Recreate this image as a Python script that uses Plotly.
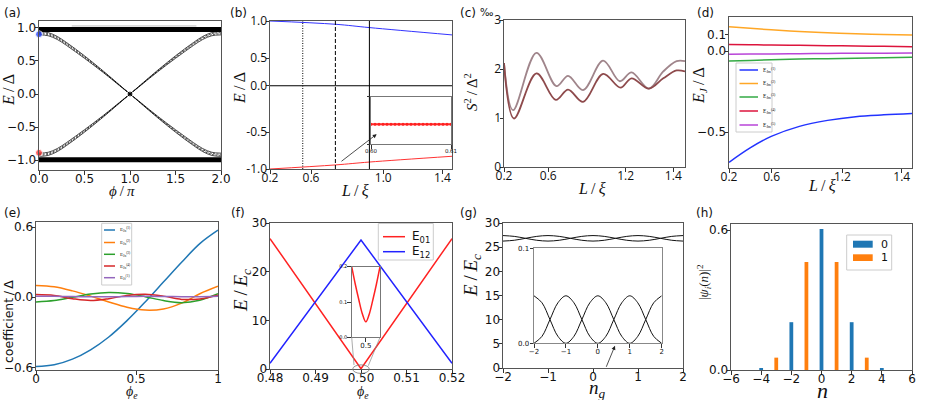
import plotly.graph_objects as go
import numpy as np

W, H = 926, 400

# ======================= DATA =======================
# (a) bound-state branch read on 0<=phi<=1 (rest of the branch follows by symmetry)
phi_a_half = [0.0, 0.1, 0.2, 0.3, 0.4, 0.5, 0.6, 0.7, 0.8, 0.9, 1.0]
abs_outer_hi = [0.945, 0.93, 0.872, 0.782, 0.683, 0.578, 0.468, 0.355, 0.238, 0.119, 0.0]
abs_dash_hi = [0.928, 0.914, 0.857, 0.768, 0.669, 0.566, 0.458, 0.347, 0.233, 0.116, 0.0]
abs_dash_lo = [0.912, 0.898, 0.842, 0.754, 0.655, 0.553, 0.448, 0.34, 0.228, 0.113, 0.0]
abs_outer_lo = [0.895, 0.882, 0.826, 0.738, 0.64, 0.54, 0.437, 0.332, 0.222, 0.11, 0.0]
cont_phi = [0.0, 2.0]
cont_top = [0.975, 0.975]
cont_bot = [-0.995, -0.995]
dot_phi = [0.0, 0.0, 1.0]
dot_E = [0.905, -0.89, 0.0]
dot_col = ["#1030ff", "#ff2020", "#000000"]

# (b)
L_b = [0.2, 0.667, 0.91, 1.5]
E_b_blue = [1.0, 0.956, 0.911, 0.812]
E_b_red = [-1.0, -0.945, -0.906, -0.828]
L_b_dotted, L_b_dashed, L_b_solid = 0.434, 0.667, 0.91
E_b_zero = 0.125
L_b_inset = [0.600, 0.6005, 0.601, 0.6015, 0.602, 0.6025, 0.603, 0.6035, 0.604, 0.6045, 0.605,
             0.6055, 0.606, 0.6065, 0.607, 0.6075, 0.608, 0.6085, 0.609, 0.6095, 0.610]
E_b_inset = [-0.958, -0.958, -0.958, -0.958, -0.958, -0.958, -0.958, -0.958, -0.958, -0.958, -0.958,
             -0.958, -0.958, -0.958, -0.958, -0.958, -0.958, -0.958, -0.958, -0.958, -0.958]

# (c)
L_c_up = [0.2, 0.265, 0.433, 0.577, 0.660, 0.768, 0.912, 1.032, 1.116, 1.241, 1.344, 1.440, 1.5]
S_up = [2.12, 1.16, 2.33, 1.65, 1.86, 1.57, 2.17, 1.75, 1.93, 1.60, 1.95, 2.16, 2.16]
L_c_lo = [0.2, 0.272, 0.433, 0.572, 0.660, 0.768, 0.912, 1.037, 1.116, 1.241, 1.344, 1.440, 1.5]
S_lo = [2.12, 0.99, 1.91, 1.37, 1.58, 1.33, 1.90, 1.62, 1.81, 1.60, 1.81, 1.97, 1.95]

# (d)
L_d = [0.2, 0.35, 0.5, 0.7, 0.9, 1.1, 1.3, 1.5]
EJ1 = [-0.687, -0.598, -0.527, -0.465, -0.428, -0.405, -0.394, -0.386]
EJ2 = [0.150, 0.140, 0.131, 0.121, 0.113, 0.107, 0.102, 0.099]
EJ3 = [-0.062, -0.058, -0.054, -0.050, -0.047, -0.044, -0.041, -0.039]
EJ4 = [0.041, 0.039, 0.037, 0.035, 0.033, 0.031, 0.029, 0.027]
EJ5 = [-0.020, -0.019, -0.018, -0.017, -0.015, -0.014, -0.013, -0.012]
d_names = ["E<sub>Jm</sub><sup>(1)</sup>", "E<sub>Jm</sub><sup>(2)</sup>", "E<sub>Jm</sub><sup>(3)</sup>",
           "E<sub>Jm</sub><sup>(4)</sup>", "E<sub>Jm</sub><sup>(5)</sup>"]
d_cols = ["#2233ff", "#ffa726", "#33aa44", "#dc143c", "#b844d8"]

# (e)
phi_e = [0.0, 0.1, 0.2, 0.3, 0.4, 0.5, 0.6, 0.7, 0.8, 0.9, 1.0]
coef1 = [-0.594, -0.578, -0.53, -0.45, -0.34, -0.20, -0.04, 0.13, 0.30, 0.46, 0.575]
coef2 = [0.102, 0.09, 0.055, 0.01, -0.04, -0.085, -0.11, -0.10, -0.05, 0.03, 0.094]
coef3 = [-0.04, -0.028, 0.0, 0.028, 0.041, 0.032, 0.005, -0.028, -0.046, -0.025, 0.03]
coef4 = [0.023, 0.015, -0.012, -0.028, -0.012, 0.016, 0.026, 0.01, -0.018, -0.014, 0.018]
coef5 = [0.008, 0.008, 0.006, 0.004, 0.004, 0.006, 0.008, 0.007, 0.005, 0.005, 0.008]
e_names = ["E<sub>Jn</sub><sup>(1)</sup>", "E<sub>Jn</sub><sup>(2)</sup>", "E<sub>Jn</sub><sup>(3)</sup>",
           "E<sub>Jn</sub><sup>(4)</sup>", "E<sub>Jf</sub><sup>(1)</sup>"]
e_cols = ["#1f77b4", "#ff7f0e", "#2ca02c", "#d62728", "#9467bd"]

# (f)
phi_f = [0.48, 0.50, 0.52]
E01 = [26.8, 0.05, 26.8]
E12 = [1.16, 26.5, 1.16]
phi_f_in = [0.4996, 0.4997, 0.4998, 0.4999, 0.5, 0.5001, 0.5002, 0.5003, 0.5004]
E01_in = [0.2, 0.151, 0.107, 0.067, 0.044, 0.067, 0.107, 0.151, 0.2]

# (g)
ng = [-2, -1.75, -1.5, -1.25, -1, -0.75, -0.5, -0.25, 0, 0.25, 0.5, 0.75, 1, 1.25, 1.5, 1.75, 2]
Eg_a = [27.4, 27.23, 26.83, 26.43, 26.26, 26.43, 26.83, 27.23, 27.4, 27.23, 26.83, 26.43, 26.26, 26.43, 26.83, 27.23, 27.4]
Eg_b = [26.26, 26.43, 26.83, 27.23, 27.4, 27.23, 26.83, 26.43, 26.26, 26.43, 26.83, 27.23, 27.4, 27.23, 26.83, 26.43, 26.26]
Eg_in_a = [0.05, 0.0427, 0.025, 0.0073, 0.0, 0.0073, 0.025, 0.0427, 0.05, 0.0427, 0.025, 0.0073, 0.0, 0.0073, 0.025, 0.0427, 0.05]
Eg_in_b = [0.0, 0.0073, 0.025, 0.0427, 0.05, 0.0427, 0.025, 0.0073, 0.0, 0.0073, 0.025, 0.0427, 0.05, 0.0427, 0.025, 0.0073, 0.0]

# (h)
n_even = [-4, -2, 0, 2, 4]
psi0 = [0.006, 0.205, 0.605, 0.205, 0.006]
n_odd = [-3, -1, 1, 3]
psi1 = [0.053, 0.463, 0.463, 0.053]

# ======================= FIGURE =======================
fig = go.Figure()
layout = dict(width=W, height=H, margin=dict(l=0, r=0, t=0, b=0), autosize=False,
              paper_bgcolor="white", plot_bgcolor="rgba(0,0,0,0)", template="none",
              showlegend=False, hovermode=False, barmode="overlay",
              font=dict(family="DejaVu Sans", size=12, color="#111"))
AX = {}


def axid(i, k):
    return k if i == 1 else f"{k}{i}"


def setup(i, xpx, ypx, xr, yr, xt, yt, xfont=12, yfont=12, xfam="DejaVu Sans", yfam="DejaVu Sans",
          ylabpos="outside", lc="#555", xso=-6, yso=-4):
    xdom = [xpx[0] / W, xpx[1] / W]
    ydom = [1 - ypx[1] / H, 1 - ypx[0] / H]
    AX[i] = (xpx, ypx, xr, yr)
    base = dict(showgrid=False, zeroline=False, showline=True, linecolor=lc, linewidth=1,
                mirror=True, ticks="outside", ticklen=3.5, tickwidth=0.8, tickcolor="#333",
                fixedrange=True)
    layout[axid(i, "xaxis")] = dict(base, domain=xdom, range=xr, anchor=axid(i, "y"),
                                    tickvals=xt[0], ticktext=xt[1], ticklabelstandoff=xso,
                                    tickfont=dict(family=xfam, size=xfont, color="#111"))
    layout[axid(i, "yaxis")] = dict(base, domain=ydom, range=yr, anchor=axid(i, "x"),
                                    tickvals=yt[0], ticktext=yt[1], ticklabelposition=ylabpos,
                                    ticklabelstandoff=yso,
                                    tickfont=dict(family=yfam, size=yfont, color="#111"))


def line(i, x, y, color, width=1.2, dash=None, shape="linear", mode="lines", **kw):
    fig.add_trace(go.Scatter(x=x, y=y, mode=mode, xaxis=axid(i, "x"), yaxis=axid(i, "y"),
                             line=dict(color=color, width=width, dash=dash, shape=shape),
                             showlegend=False, hoverinfo="skip", **kw))


annots, shapes = [], []


def txt(x, y, text, size=12, family="DejaVu Sans", angle=0, xanchor="center", color="#111"):
    annots.append(dict(x=x / W, y=1 - y / H, xref="paper", yref="paper", text=text, showarrow=False,
                       xanchor=xanchor, yanchor="middle", textangle=angle,
                       font=dict(size=size, family=family, color=color)))


def pline(x0, y0, x1, y1, color, width=1.0, dash=None):
    shapes.append(dict(type="line", xref="paper", yref="paper", x0=x0 / W, y0=1 - y0 / H,
                       x1=x1 / W, y1=1 - y1 / H, line=dict(color=color, width=width, dash=dash)))


def prect(x0, y0, x1, y1, line_color="#cccccc", fill="rgba(255,255,255,0.8)", width=1):
    shapes.append(dict(type="rect", xref="paper", yref="paper", x0=x0 / W, y0=1 - y1 / H,
                       x1=x1 / W, y1=1 - y0 / H, line=dict(color=line_color, width=width),
                       fillcolor=fill, layer="above"))


def d2p(i, x, y):
    xpx, ypx, xr, yr = AX[i]
    X = xpx[0] + (x - xr[0]) / (xr[1] - xr[0]) * (xpx[1] - xpx[0])
    Y = ypx[1] - (y - yr[0]) / (yr[1] - yr[0]) * (ypx[1] - ypx[0])
    return X, Y


SERIF = "Liberation Serif"
M = "\u2212"

# ---------- (a) ----------
setup(1, (39, 221), (21, 170), [0, 2], [-1.15, 1.105],
      ([0, 0.5, 1, 1.5, 2], ["0.0", "0.5", "1.0", "1.5", "2.0"]),
      ([-1, -0.5, 0, 0.5, 1], [M + "1.0", M + "0.5", "0.0", "0.5", "1.0"]))
phi_full = phi_a_half + [2 - p for p in reversed(phi_a_half[:-1])]
for vals, dash in [(abs_outer_hi, None), (abs_dash_hi, "2px,1.5px"), (abs_dash_lo, "2px,1.5px"),
                   (abs_outer_lo, None)]:
    desc = vals + [-v for v in reversed(vals[:-1])]
    asc = [-v for v in desc]
    line(1, phi_full, desc, "#000", width=0.7, dash=dash, shape="spline")
    line(1, phi_full, asc, "#000", width=0.7, dash=dash, shape="spline")
line(1, cont_phi, cont_top, "#000", width=5)
line(1, cont_phi, cont_bot, "#000", width=5)
line(1, [0.36, 1.73], [1.03, 1.03], "#b0b0b0", width=0.8)
fig.add_trace(go.Scatter(x=dot_phi, y=dot_E, mode="markers", xaxis="x", yaxis="y",
                         marker=dict(color=dot_col, size=[7, 7, 6]), cliponaxis=False,
                         showlegend=False, hoverinfo="skip"))

# ---------- (b) ----------
setup(2, (270, 452), (21, 169), [0.2, 1.5], [-1, 1],
      ([0.2, 0.493, 1.009, 1.431], ["0.2", "0.6", "1.0", "1.4"]),
      ([-1, -0.5, E_b_zero, 0.5, 1], ["-1.0", "-0.5", "0.0", "0.5", "1.0"]),
      xfont=12, yfont=12, xfam="Open Sans", yfam="Open Sans")
line(2, L_b, E_b_blue, "#3333ff", width=1, shape="spline")
line(2, L_b, E_b_red, "#ff3333", width=1, shape="spline")
line(2, [0.2, 1.5], [E_b_zero, E_b_zero], "#000", width=1)
line(2, [L_b_dotted, L_b_dotted], [-1, 1], "#000", width=1, dash="1px,1.5px")
line(2, [L_b_dashed, L_b_dashed], [-1, 1], "#000", width=1, dash="4px,2px")
line(2, [L_b_solid, L_b_solid], [-1, 1], "#000", width=1)
# inset (b)
setup(9, (371, 451), (96.7, 144), [0.6, 0.61], [-1.0, -0.9],
      ([0.6, 0.61], ["0.60", "0.61"]), ([-1.0, -0.9], [M + "1.0", M + "0.9"]),
      xfont=5.5, yfont=5.5, ylabpos="inside", lc="#777", xso=-2, yso=0)
line(9, L_b_inset, E_b_inset, "#ff3333", width=2, mode="lines+markers",
     marker=dict(size=3, color="#ff2020"))
annots.append(dict(x=0.962, y=-0.529, ax=0.70, ay=-0.911, xref="x2", yref="y2", axref="x2",
                   ayref="y2", showarrow=True, arrowhead=2, arrowsize=1, arrowwidth=0.8,
                   arrowcolor="#222", text=""))

# ---------- (c) ----------
setup(3, (504, 685), (20, 167), [0.2, 1.5], [0, 3],
      ([0.2, 0.518, 1.074, 1.416], ["0.2", "0.6", "1.2", "1.4"]),
      ([0, 1, 2, 3], ["0", "1", "2", "3"]), xfont=12, yfont=12, xfam="Open Sans", yfam="Open Sans")
line(3, L_c_up, S_up, "#a0858b", width=1.8, shape="spline")
line(3, L_c_lo, S_lo, "#8e4a4c", width=1.8, shape="spline")

# ---------- (d) ----------
setup(4, (729, 912), (17, 168), [0.2, 1.5], [-0.722, 0.21],
      ([0.2, 0.503, 1.005, 1.427], ["0.2", "0.6", "1.2", "1.4"]),
      ([-0.5, 0.0, 0.1], [M + "0.5", "0.0", "0.1"]), xfont=12, yfont=12, xfam="Open Sans")
for ys, c in zip([EJ1, EJ2, EJ3, EJ4, EJ5], d_cols):
    line(4, L_d, ys, c, width=1.5, shape="spline")
prect(736, 63, 772, 132)
for k, (nm, c) in enumerate(zip(d_names, d_cols)):
    yy = [70, 83.5, 97, 111, 125][k]
    pline(739.5, yy, 758, yy, c, 1.5)
    txt(761, yy, nm, size=5.5, family=SERIF, xanchor="left")

# ---------- (e) ----------
setup(5, (36, 218), (222, 370), [0, 1], [-0.623, 0.645],
      ([0, 0.55, 1], ["0", "0.5", "1"]), ([-0.6, 0, 0.6], [M + "0.6", "0.0", "0.6"]))
for ys, c in zip([coef1, coef2, coef3, coef4, coef5], e_cols):
    line(5, phi_e, ys, c, width=1.5, shape="spline")
prect(101.7, 223.3, 131.7, 285)
for k, (nm, c) in enumerate(zip(e_names, e_cols)):
    yy = [230, 242.5, 254.3, 266, 277.7][k]
    pline(104, yy, 115, yy, c, 1.5)
    txt(118, yy, nm, size=5, family=SERIF, xanchor="left")

# ---------- (f) ----------
setup(6, (270, 452), (223, 369), [0.48, 0.52], [0, 30],
      ([0.48, 0.49, 0.50, 0.51, 0.52], ["0.48", "0.49", "0.50", "0.51", "0.52"]),
      ([0, 10, 20, 30], ["0", "10", "20", "30"]))
line(6, phi_f, E01, "#ff2222", width=1.5)
line(6, phi_f, E12, "#2222ff", width=1.5)
setup(10, (351.7, 380), (266.7, 337.3), [0.4996, 0.5004], [0, 0.2],
      ([0.5], ["0.5"]), ([0, 0.1, 0.2], ["0.0", "0.1", "0.2"]), xfont=7, yfont=5, lc="#777",
      xso=-2, yso=-1)
line(10, phi_f_in, E01_in, "#ff2222", width=1.5, shape="spline")
ex0, ey0 = d2p(6, 0.49818, -0.9)
ex1, ey1 = d2p(6, 0.50183, 0.85)
shapes.append(dict(type="circle", xref="paper", yref="paper", x0=ex0 / W, x1=ex1 / W,
                   y0=1 - ey0 / H, y1=1 - ey1 / H, line=dict(color="#777", width=0.8)))
pline(354, 365, 351.7, 337.3, "#888", 0.7)
pline(368.3, 365.7, 380, 337.3, "#888", 0.7)
prect(378.3, 223.5, 433.3, 260)
pline(383, 236.7, 405, 236.7, "#ff2222", 1.5)
pline(383, 251.7, 405, 251.7, "#2222ff", 1.5)
txt(410, 236.7, "E<sub>01</sub>", size=12, xanchor="left")
txt(410, 251.7, "E<sub>12</sub>", size=12, xanchor="left")

# ---------- (g) ----------
setup(7, (503, 683), (223, 368), [-2, 2], [0, 30],
      ([-2, -1, 0, 1, 2], [M + "2", M + "1", "0", "1", "2"]),
      ([0, 5, 10, 15, 20, 25, 30], ["0", "5", "10", "15", "20", "25", "30"]))
line(7, ng, Eg_a, "#111", width=1, shape="spline")
line(7, ng, Eg_b, "#111", width=1, shape="spline")
setup(11, (534, 661.7), (248.3, 343.3), [-2, 2], [0, 0.1],
      ([-2, -1, 0, 1, 2], [M + "2", M + "1", "0", "1", "2"]), ([0, 0.1], ["0.0", "0.1"]),
      xfont=7, yfont=7, lc="#888", xso=-2, yso=-1)
line(11, ng, Eg_in_a, "#111", width=1, shape="spline")
line(11, ng, Eg_in_b, "#111", width=1, shape="spline")
annots.append(dict(x=0.489, y=4.61, ax=0.282, ay=-0.06, xref="x7", yref="y7", axref="x7",
                   ayref="y7", showarrow=True, arrowhead=2, arrowsize=1, arrowwidth=0.8,
                   arrowcolor="#222", text=""))

# ---------- (h) ----------
setup(8, (731, 912), (224, 370), [-6, 6], [0, 0.626],
      ([-6, -4, -2, 0, 2, 4, 6], [M + "6", M + "4", M + "2", "0", "2", "4", "6"]),
      ([0, 0.6], ["0.0", "0.6"]))
fig.add_trace(go.Bar(x=n_even, y=psi0, width=0.25, marker=dict(color="#1f77b4", line=dict(width=0)),
                     xaxis="x8", yaxis="y8", showlegend=False, hoverinfo="skip"))
fig.add_trace(go.Bar(x=n_odd, y=psi1, width=0.25, marker=dict(color="#ff7f0e", line=dict(width=0)),
                     xaxis="x8", yaxis="y8", showlegend=False, hoverinfo="skip"))
prect(846.7, 235, 891.7, 270)
shapes.append(dict(type="rect", xref="paper", yref="paper", x0=853 / W, x1=872.7 / W,
                   y0=1 - 247.7 / H, y1=1 - 240.7 / H, fillcolor="#1f77b4", line=dict(width=0)))
shapes.append(dict(type="rect", xref="paper", yref="paper", x0=853 / W, x1=872.7 / W,
                   y0=1 - 261 / H, y1=1 - 254.3 / H, fillcolor="#ff7f0e", line=dict(width=0)))
txt(879, 244, "0", size=11, xanchor="left")
txt(879, 257.7, "1", size=11, xanchor="left")

# ---------- labels ----------
for lab, x, y in [("(a)", 12, 13), ("(b)", 238, 13), ("(c)", 468, 13), ("(d)", 705, 13),
                  ("(e)", 12, 213), ("(f)", 238, 213), ("(g)", 468, 213), ("(h)", 704, 213)]:
    txt(x, y, lab, size=12)
txt(486, 12, "\u2030", size=10)

T = "\u2009"
txt(9, 90, "<i>E</i>" + T + "/" + T + "Δ", size=16, family=SERIF, angle=-90)
txt(240, 88, "<i>E</i>" + T + "/" + T + "Δ", size=16, family=SERIF, angle=-90)
txt(471, 92, "<i>S</i><sup>2</sup>" + T + "/" + T + "Δ<sup>2</sup>", size=15, family=SERIF, angle=-90)
txt(700, 86, "<i>E<sub>J</sub></i>" + T + "/" + T + "Δ", size=16, family=SERIF, angle=-90)
txt(8, 322, "coefficient" + T + "/" + T + "Δ", size=12.5, angle=-90)
txt(242, 290, "<i>E</i>" + T + "/" + T + "<i>E<sub>c</sub></i>", size=19, family=SERIF, angle=-90)
txt(472, 276, "<i>E</i>" + T + "/" + T + "<i>E<sub>c</sub></i>", size=19, family=SERIF, angle=-90)
txt(704, 282, "|<i>ψ<sub>i</sub></i>(<i>n</i>)|<sup>2</sup>", size=13, family=SERIF, angle=-90)

txt(122, 191, "<i>ϕ</i>" + T + "/" + T + "<i>π</i>", size=15, family=SERIF)
txt(355, 190, "<i>L</i>" + T + "/" + T + "<i>ξ</i>", size=16, family=SERIF)
txt(592, 188, "<i>L</i>" + T + "/" + T + "<i>ξ</i>", size=16, family=SERIF)
txt(822, 185, "<i>L</i>" + T + "/" + T + "<i>ξ</i>", size=16, family=SERIF)
txt(132, 392, "<i>ϕ<sub>e</sub></i>", size=14, family=SERIF)
txt(363, 392, "<i>ϕ<sub>e</sub></i>", size=14, family=SERIF)
txt(597, 389, "<i>n<sub>g</sub></i>", size=19, family=SERIF)
txt(822, 390, "<i>n</i>", size=22, family=SERIF)

layout["annotations"] = annots
layout["shapes"] = shapes
fig.update_layout(**layout)
fig.write_html("out.html", config={"displayModeBar": False},
               post_script="document.body.style.margin='0';document.body.style.overflow='hidden';")
